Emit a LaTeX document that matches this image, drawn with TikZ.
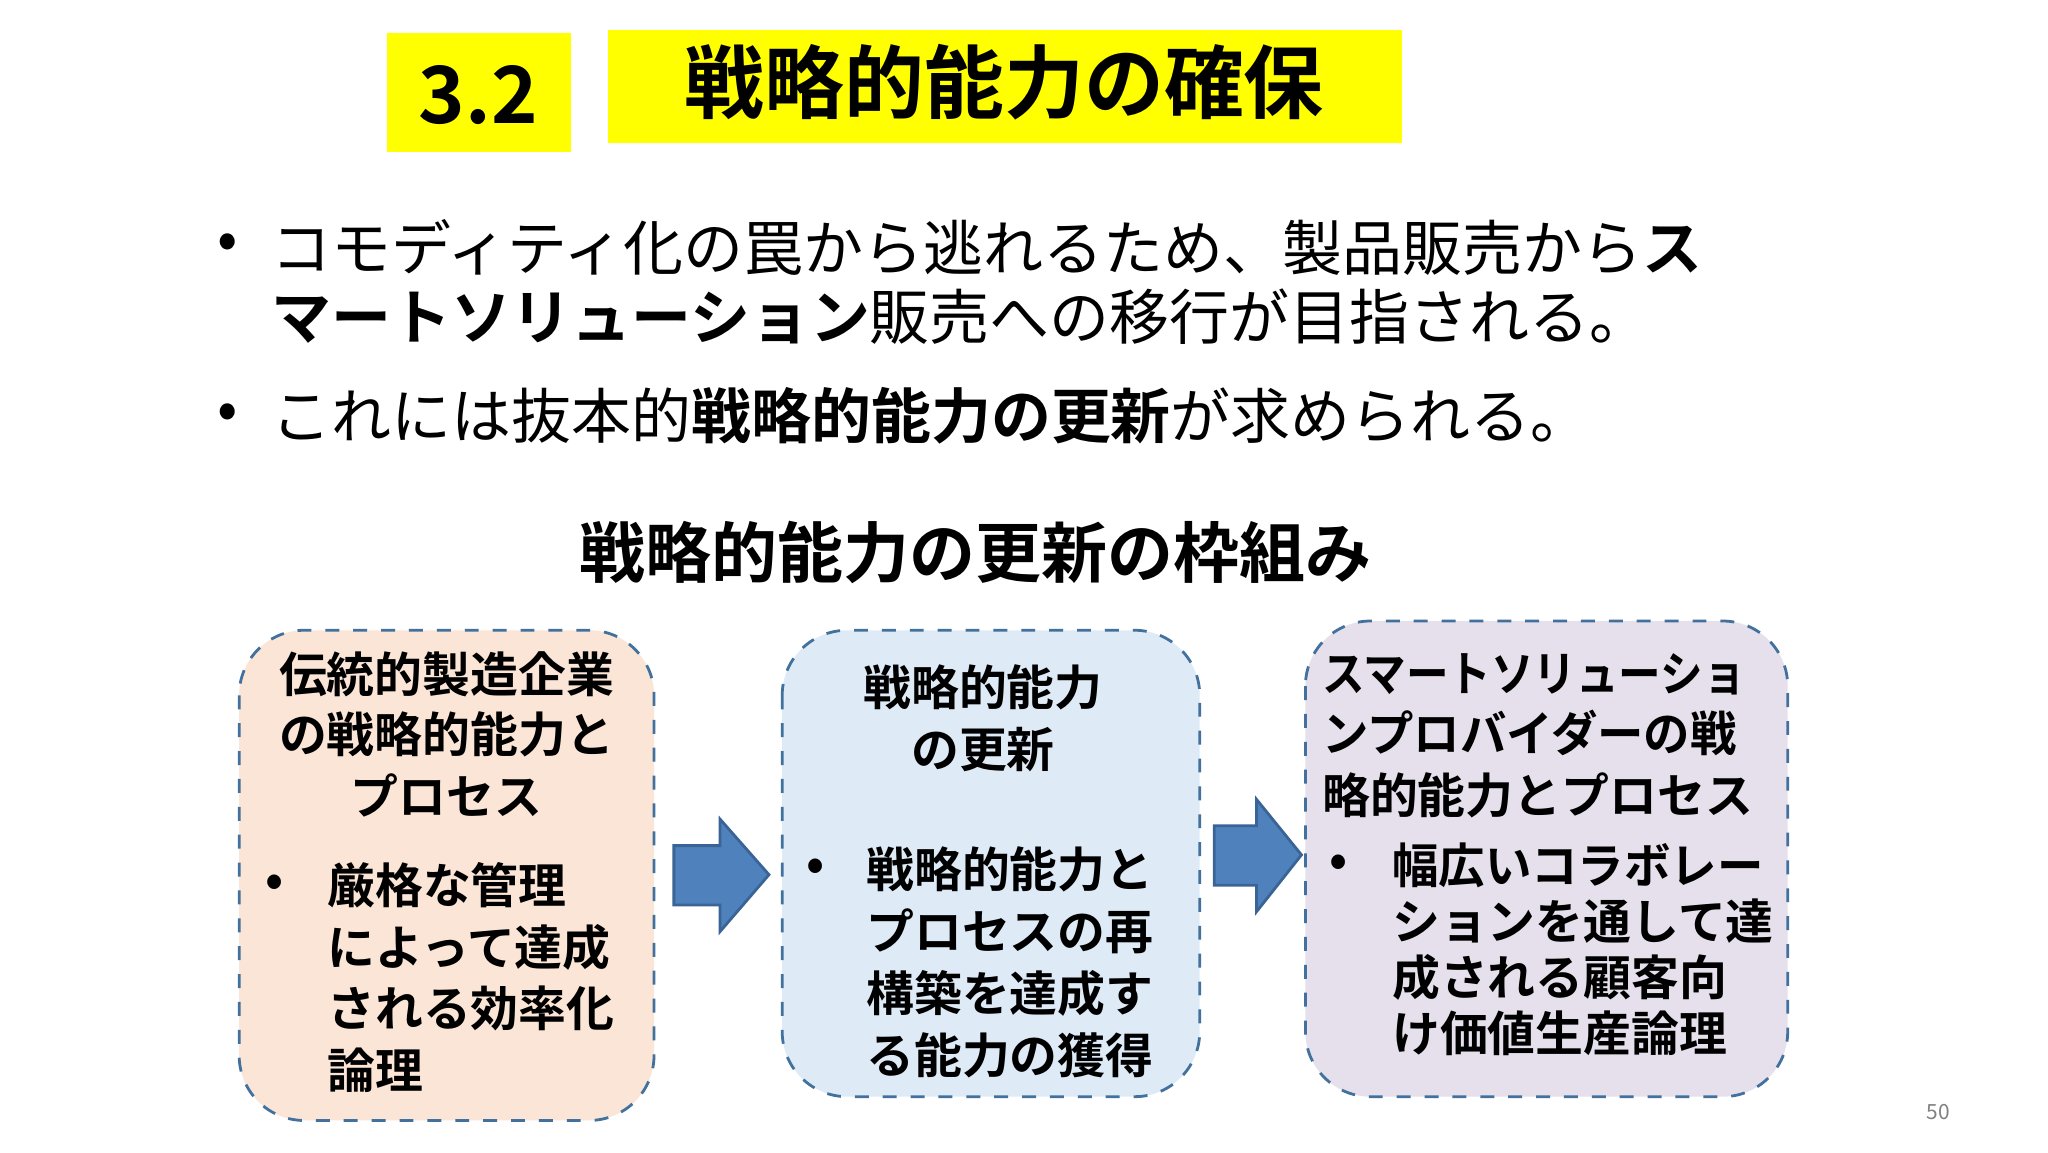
\documentclass[tikz,border=0pt]{standalone}
\usepackage{fontspec}
\setmainfont{Noto Sans CJK JP}[BoldFont={Noto Sans CJK JP Bold}]
\definecolor{ylw}{HTML}{FFFF00}
\definecolor{bpeach}{HTML}{FBE5D6}
\definecolor{bblue}{HTML}{DEEBF7}
\definecolor{blav}{HTML}{E6E0EC}
\definecolor{bord}{HTML}{41719C}
\definecolor{arrf}{HTML}{4F81BD}
\definecolor{arrd}{HTML}{3A6496}
\tikzset{
  ln/.style={anchor=west,inner sep=0pt},
  lc/.style={anchor=center,inner sep=0pt},
  bt/.style={font=\fontsize{12.9pt}{15pt}\selectfont},
  bx/.style={font=\bfseries\fontsize{10.3pt}{12pt}\selectfont},
  panel/.style={draw=bord,dashed,line width=0.6pt,rounded corners=14pt},
  blk/.style={draw=arrd,fill=arrf,line width=0.6pt},
}
\begin{document}
\begin{tikzpicture}[x=0.01cm,y=-0.01cm]
\useasboundingbox (0,0) rectangle (1550,872);
\fill[white] (0,0) rectangle (1550,872);
% header
\fill[ylw] (293,25) rectangle (432,115);
\node[lc,font=\bfseries\fontsize{17pt}{18pt}\selectfont] (num) at (362,72) {3.2};
\fill[ylw] (460,23) rectangle (1061,108);
\node[lc,font=\bfseries\fontsize{17.2pt}{19pt}\selectfont] (title) at (760,62) {戦略的能力の確保};
% bullets
\node[lc,bt] (d1) at (172,187) {•};
\node[ln,bt] (l1) at (205,187) {コモディティ化の罠から逃れるため、製品販売から\textbf{ス}};
\node[ln,bt] (l2) at (205,240) {\textbf{マートソリューション}販売への移行が目指される。};
\node[lc,bt] (d2) at (172,315) {•};
\node[ln,bt] (l3) at (205,315) {これには抜本的\textbf{戦略的能力の更新}が求められる。};
\node[lc,font=\bfseries\fontsize{14.2pt}{16pt}\selectfont] (sub) at (738,418) {戦略的能力の更新の枠組み};
% panels
\draw[panel,fill=bpeach] (181,477) rectangle (495,848);
\draw[panel,fill=bblue] (592,477) rectangle (908,830);
\draw[panel,fill=blav] (988,470) rectangle (1353,830);
% arrows
\draw[blk] (510,640) -- (545,640) -- (545,620) -- (582,662) -- (545,705) -- (545,685) -- (510,685) -- cycle;
\draw[blk] (919,625) -- (951,625) -- (951,605) -- (985,647) -- (951,690) -- (951,670) -- (919,670) -- cycle;
% box 1
\node[lc,bx] (t11) at (338,510) {伝統的製造企業};
\node[lc,bx] (t12) at (338,556) {の戦略的能力と};
\node[lc,bx] (t13) at (338,602) {プロセス};
\node[lc,bx] (b10) at (208,670) {•};
\node[ln,bx] (b11) at (247,670) {厳格な管理};
\node[ln,bx] (b12) at (247,717) {によって達成};
\node[ln,bx] (b13) at (247,763) {される効率化};
\node[ln,bx] (b14) at (247,810) {論理};
% box 2
\node[lc,bx] (t21) at (744,520) {戦略的能力};
\node[lc,bx] (t22) at (744,567) {の更新};
\node[lc,bx] (b20) at (617,658) {•};
\node[ln,bx] (b21) at (655,658) {戦略的能力と};
\node[ln,bx] (b22) at (655,705) {プロセスの再};
\node[ln,bx] (b23) at (655,752) {構築を達成す};
\node[ln,bx] (b24) at (655,799) {る能力の獲得};
% box 3
\node[ln,bx,xscale=0.89] (t31) at (1000,510) {スマートソリューショ};
\node[ln,bx,xscale=0.97] (t32) at (1000,555) {ンプロバイダーの戦};
\node[ln,bx] (t33) at (1000,602) {略的能力とプロセス};
\node[lc,bx] (b30) at (1013,655) {•};
\node[ln,bx,xscale=0.97] (b31) at (1053,655) {幅広いコラボレー};
\node[ln,bx] (b32) at (1053,697) {ションを通して達};
\node[ln,bx] (b33) at (1053,740) {成される顧客向};
\node[ln,bx] (b34) at (1053,782) {け価値生産論理};
\node[lc,text=gray,font=\fontsize{4.5pt}{5pt}\selectfont] (pg) at (1467,842) {50};
\end{tikzpicture}
\end{document}
